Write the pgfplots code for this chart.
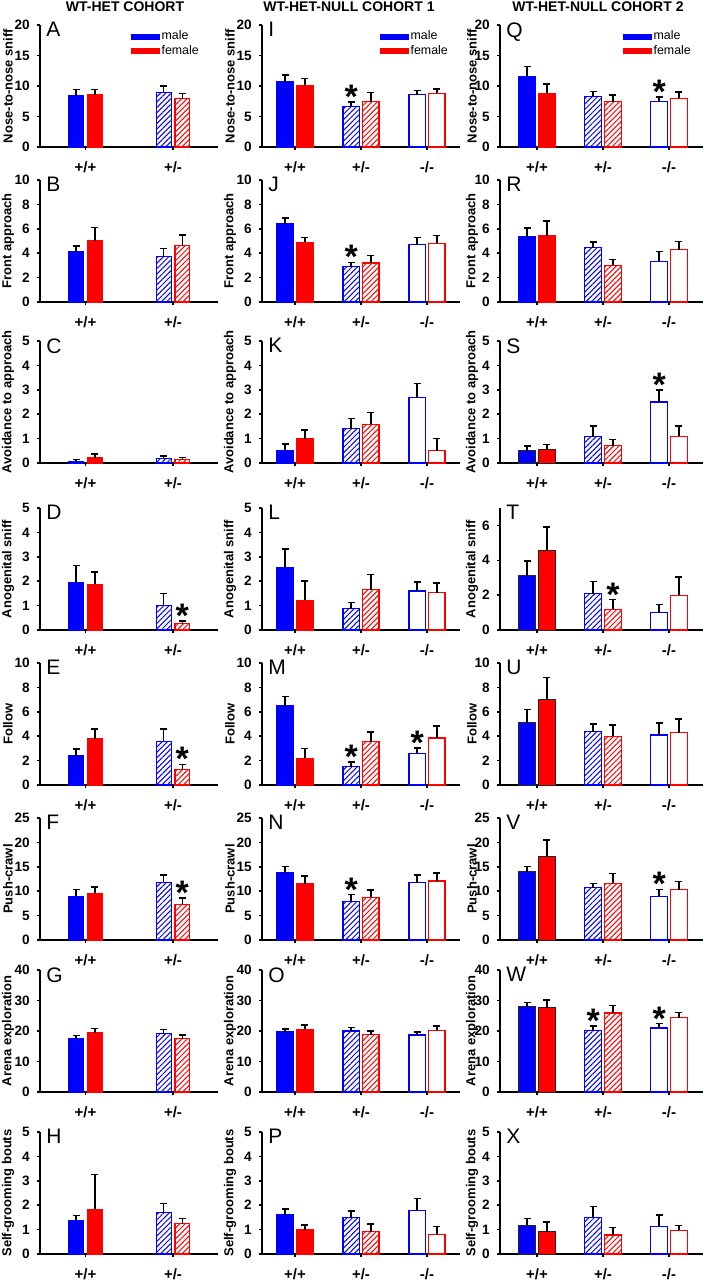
\documentclass[border=0pt]{standalone}
\usepackage{fontspec}
\setmainfont{Liberation Sans}
\usepackage{pgfplots}
\pgfplotsset{compat=1.18}
\usetikzlibrary{patterns.meta}

\pgfplotsset{
  base/.style={scale only axis, height=61pt, anchor=north west, ymin=0,
    axis x line*=bottom, axis y line*=left,
    axis line style={line width=0.75pt, black},
    every tick/.style={black, line width=0.75pt}, tick align=outside, major tick length=1.6pt,
    xtick={1,2,3}, xticklabels={+/+,+/-,-/-},
    /pgf/number format/assume math mode=true,
    yticklabel style={font=\fontsize{6.8}{7}\selectfont\bfseries},
    xticklabel style={font=\fontsize{7.5}{8}\selectfont\bfseries, anchor=center, yshift=-8.5pt},
    every axis y label/.style={rotate=90, anchor=center, font=\fontsize{6.5}{7}\selectfont\bfseries},
    clip=false,
    legend style={draw=none, fill=none, anchor=north west, font=\fontsize{6.2}{6.2}\selectfont,
      inner sep=0pt, row sep=0pt, nodes={inner sep=0.6pt},
      /tikz/every even column/.append style={column sep=2.2pt}},
    legend cell align=left,
    legend image code/.code={\path[fill] (0pt,-1.5pt) rectangle (14.5pt,1.5pt);},
  },
  c1/.style={base, width=89pt, xmin=0.48, xmax=2.514, bar width=0.167,
    ylabel style={at={([xshift=-16pt]axis description cs:0,0.5)}}},
  c2/.style={base, width=99pt, xmin=0.5, xmax=3.5, bar width=0.25,
    ylabel style={at={([xshift=-16pt]axis description cs:0,0.5)}}},
  c3/.style={base, width=101.5pt, xmin=0.439, xmax=3.515, bar width=0.265,
    ylabel style={at={([xshift=-14pt]axis description cs:0,0.5)}}},
  bar/.style={ybar, bar shift=0pt, forget plot, line width=0.55pt,
    error bars/y dir=plus, error bars/y explicit,
    error bars/error bar style={black, line width=0.75pt},
    error bars/error mark options={rotate=90, black, line width=0.75pt, mark size=1.75pt}},
  mS/.style={bar, fill=blue, draw=blue},
  fS/.style={bar, fill=red, draw=red},
  mK/.style={bar, fill=blue, draw=black!85, line width=0.5pt},
  fK/.style={bar, fill=red, draw=black!85, line width=0.5pt},
  mH/.style={bar, draw=blue, pattern={Lines[angle=45, distance=1.9pt, line width=0.5pt]}, pattern color=blue},
  fH/.style={bar, draw=red, pattern={Lines[angle=45, distance=1.9pt, line width=0.5pt]}, pattern color=red},
  mO/.style={bar, draw=blue, fill=white},
  fO/.style={bar, draw=red, fill=white},
}
\tikzset{
  letter/.style={anchor=north west, font=\fontsize{10.5}{10.5}\selectfont, inner sep=0pt, xshift=3pt, yshift=1.5pt},
  ast/.style={font=\fontsize{17}{17}\selectfont\bfseries, anchor=base, yshift=-3.3pt, inner sep=0pt},
  ttl/.style={font=\fontsize{7}{7}\selectfont\bfseries, anchor=center, inner sep=0pt},
}

\newcommand{\Panel}[8]{%
\begin{axis}[#3, at={({#1*0.5pt},{-#2*0.5pt})}, ymax=#4, ytick={#5}, ylabel={#6}]
\node[letter] at (rel axis cs:0,1) {#7};
#8
\end{axis}}
% male / female bars: style, category, mean, error
\newcommand{\M}[4]{\pgfmathsetmacro\xx{#2+\mo}\edef\tmp{\noexpand\addplot[#1] coordinates {(\xx,#3) +- (0,#4)};}\tmp}
\newcommand{\F}[4]{\pgfmathsetmacro\xx{#2+\fo}\edef\tmp{\noexpand\addplot[#1] coordinates {(\xx,#3) +- (0,#4)};}\tmp}
\newcommand{\Ast}[2]{\node[ast] at (axis cs:#1,#2) {*};}
\newcommand{\Leg}{\addlegendimage{fill=blue, draw=none}\addlegendentry{male}
\addlegendimage{fill=red, draw=none}\addlegendentry{female}}

\begin{document}
\begin{tikzpicture}
\path[use as bounding box] (0,0) rectangle (351.5pt,-640pt);
\node[ttl] at (62.5pt,-3.5pt) {WT-HET COHORT};
\node[ttl] at (174.5pt,-3.5pt) {WT-HET-NULL COHORT 1};
\node[ttl] at (299pt,-3.5pt) {WT-HET-NULL COHORT 2};

% ---------------- column 1 ----------------
\def\mo{-0.106}\def\fo{0.106}
\Panel{40}{25}{c1, legend style={at={(rel axis cs:0.511,0.965)}}}{20}{0,5,...,20}{Nose-to-nose sniff}{A}{\Leg
\M{mS}{1}{8.5}{0.9}\F{fS}{1}{8.6}{0.8}\M{mH}{2}{9.0}{1.0}\F{fH}{2}{7.9}{0.9}}
\Panel{40}{180}{c1}{10}{0,2,...,10}{Front approach}{B}{
\M{mS}{1}{4.1}{0.5}\F{fS}{1}{5.0}{1.1}\M{mH}{2}{3.7}{0.7}\F{fH}{2}{4.6}{0.9}}
\Panel{40}{341}{c1}{5}{0,1,...,5}{Avoidance to approach}{C}{
\M{mS}{1}{0.07}{0.07}\F{fS}{1}{0.22}{0.15}\M{mH}{2}{0.17}{0.12}\F{fH}{2}{0.13}{0.1}}
\Panel{40}{508}{c1}{5}{0,1,...,5}{Anogenital sniff}{D}{
\M{mS}{1}{1.93}{0.72}\F{fS}{1}{1.87}{0.5}\M{mH}{2}{1.0}{0.5}\F{fH}{2}{0.25}{0.12}\Ast{2.106}{0.37}}
\Panel{40}{663}{c1}{10}{0,2,...,10}{Follow}{E}{
\M{mS}{1}{2.4}{0.55}\F{fS}{1}{3.8}{0.8}\M{mH}{2}{3.6}{1.0}\F{fH}{2}{1.3}{0.4}\Ast{2.106}{1.7}}
\Panel{40}{818}{c1}{25}{0,5,...,25}{Push-crawl}{F}{
\M{mS}{1}{9.0}{1.3}\F{fS}{1}{9.6}{1.3}\M{mH}{2}{11.8}{1.5}\F{fH}{2}{7.3}{1.3}\Ast{2.106}{8.6}}
\Panel{40}{970}{c1}{40}{0,10,...,40}{Arena exploration}{G}{
\M{mS}{1}{17.5}{1.0}\F{fS}{1}{19.5}{1.3}\M{mH}{2}{19.2}{1.3}\F{fH}{2}{17.5}{1.2}}
\Panel{40}{1132}{c1}{5}{0,1,...,5}{Self-grooming bouts}{H}{
\M{mS}{1}{1.38}{0.2}\F{fS}{1}{1.83}{1.42}\M{mH}{2}{1.7}{0.37}\F{fH}{2}{1.25}{0.2}}

% ---------------- column 2 ----------------
\def\mo{-0.148}\def\fo{0.148}
\Panel{262}{25}{c2, legend style={at={(rel axis cs:0.596,0.965)}}}{20}{0,5,...,20}{Nose-to-nose sniff}{I}{\Leg
\M{mS}{1}{10.7}{1.1}\F{fS}{1}{10.1}{1.1}\M{mH}{2}{6.7}{0.7}\F{fH}{2}{7.4}{1.5}\M{mO}{3}{8.6}{0.7}\F{fO}{3}{8.8}{0.7}\Ast{1.852}{7.4}}
\Panel{262}{180}{c2}{10}{0,2,...,10}{Front approach}{J}{
\M{mS}{1}{6.4}{0.5}\F{fS}{1}{4.9}{0.4}\M{mH}{2}{2.9}{0.35}\F{fH}{2}{3.2}{0.6}\M{mO}{3}{4.7}{0.6}\F{fO}{3}{4.8}{0.65}\Ast{1.852}{3.25}}
\Panel{262}{341}{c2}{5}{0,1,...,5}{Avoidance to approach}{K}{
\M{mS}{1}{0.52}{0.25}\F{fS}{1}{1.0}{0.35}\M{mH}{2}{1.4}{0.43}\F{fH}{2}{1.58}{0.48}\M{mO}{3}{2.68}{0.58}\F{fO}{3}{0.5}{0.5}}
\Panel{262}{508}{c2}{5}{0,1,...,5}{Anogenital sniff}{L}{
\M{mS}{1}{2.58}{0.73}\F{fS}{1}{1.22}{0.78}\M{mH}{2}{0.87}{0.25}\F{fH}{2}{1.65}{0.63}\M{mO}{3}{1.6}{0.37}\F{fO}{3}{1.52}{0.4}}
\Panel{262}{663}{c2}{10}{0,2,...,10}{Follow}{M}{
\M{mS}{1}{6.5}{0.75}\F{fS}{1}{2.2}{0.8}\M{mH}{2}{1.5}{0.4}\F{fH}{2}{3.55}{0.8}\M{mO}{3}{2.6}{0.45}\F{fO}{3}{3.85}{1.0}\Ast{1.852}{1.9}\Ast{2.852}{3.05}}
\Panel{262}{818}{c2}{25}{0,5,...,25}{Push-crawl}{N}{
\M{mS}{1}{13.8}{1.3}\F{fS}{1}{11.5}{1.6}\M{mH}{2}{7.9}{1.4}\F{fH}{2}{8.8}{1.4}\M{mO}{3}{11.7}{1.6}\F{fO}{3}{12.1}{1.6}\Ast{1.852}{9.3}}
\Panel{262}{970}{c2}{40}{0,10,...,40}{Arena exploration}{O}{
\M{mS}{1}{19.7}{1.0}\F{fS}{1}{20.6}{1.4}\M{mH}{2}{20.0}{1.2}\F{fH}{2}{18.8}{1.2}\M{mO}{3}{18.7}{1.0}\F{fO}{3}{20.3}{1.3}}
\Panel{262}{1132}{c2}{5}{0,1,...,5}{Self-grooming bouts}{P}{
\M{mS}{1}{1.6}{0.25}\F{fS}{1}{1.0}{0.18}\M{mH}{2}{1.5}{0.27}\F{fH}{2}{0.92}{0.32}\M{mO}{3}{1.8}{0.48}\F{fO}{3}{0.8}{0.32}}

% ---------------- column 3 ----------------
\def\mo{-0.15}\def\fo{0.15}
\Panel{500}{25}{c3, legend style={at={(rel axis cs:0.606,0.965)}}}{20}{0,5,...,20}{Nose-to-nose sniff}{Q}{\Leg
\M{mS}{1}{11.6}{1.6}\F{fS}{1}{8.8}{1.5}\M{mH}{2}{8.3}{0.8}\F{fH}{2}{7.4}{1.1}\M{mO}{3}{7.4}{0.8}\F{fO}{3}{8.0}{1.0}\Ast{2.85}{8.2}}
\Panel{500}{180}{c3}{10}{0,2,...,10}{Front approach}{R}{
\M{mS}{1}{5.35}{0.7}\F{fS}{1}{5.45}{1.2}\M{mH}{2}{4.45}{0.45}\F{fH}{2}{3.0}{0.5}\M{mO}{3}{3.35}{0.8}\F{fO}{3}{4.3}{0.65}}
\Panel{500}{341}{c3}{5}{0,1,...,5}{Avoidance to approach}{S}{
\M{mK}{1}{0.5}{0.2}\F{fK}{1}{0.57}{0.18}\M{mH}{2}{1.08}{0.43}\F{fH}{2}{0.7}{0.27}\M{mO}{3}{2.5}{0.5}\F{fO}{3}{1.1}{0.42}\Ast{2.85}{3.0}}
\Panel{500}{508}{c3}{7}{0,2,4,6}{Anogenital sniff}{T}{
\M{mK}{1}{3.1}{0.85}\F{fK}{1}{4.55}{1.35}\M{mH}{2}{2.08}{0.7}\F{fH}{2}{1.2}{0.55}\M{mO}{3}{1.0}{0.45}\F{fO}{3}{2.0}{1.05}\Ast{2.15}{1.75}}
\Panel{500}{663}{c3}{10}{0,2,...,10}{Follow}{U}{
\M{mK}{1}{5.1}{1.1}\F{fK}{1}{7.0}{1.8}\M{mH}{2}{4.35}{0.65}\F{fH}{2}{4.0}{0.9}\M{mO}{3}{4.1}{1.0}\F{fO}{3}{4.3}{1.1}}
\Panel{500}{818}{c3}{25}{0,5,...,25}{Push-crawl}{V}{
\M{mK}{1}{14.0}{1.1}\F{fK}{1}{17.2}{3.3}\M{mH}{2}{10.7}{0.9}\F{fH}{2}{11.6}{2.0}\M{mO}{3}{9.0}{1.4}\F{fO}{3}{10.3}{1.7}\Ast{2.85}{10.4}}
\Panel{500}{970}{c3}{40}{0,10,...,40}{Arena exploration}{W}{
\M{mK}{1}{28.0}{1.4}\F{fK}{1}{27.6}{2.5}\M{mH}{2}{20.3}{1.4}\F{fH}{2}{25.9}{2.4}\M{mO}{3}{21.0}{1.4}\F{fO}{3}{24.4}{1.7}\Ast{1.85}{21.7}\Ast{2.85}{22.4}}
\Panel{500}{1132}{c3}{5}{0,1,...,5}{Self-grooming bouts}{X}{
\M{mK}{1}{1.18}{0.27}\F{fK}{1}{0.92}{0.4}\M{mH}{2}{1.5}{0.45}\F{fH}{2}{0.78}{0.3}\M{mO}{3}{1.13}{0.47}\F{fO}{3}{0.97}{0.2}}
\end{tikzpicture}
\end{document}
